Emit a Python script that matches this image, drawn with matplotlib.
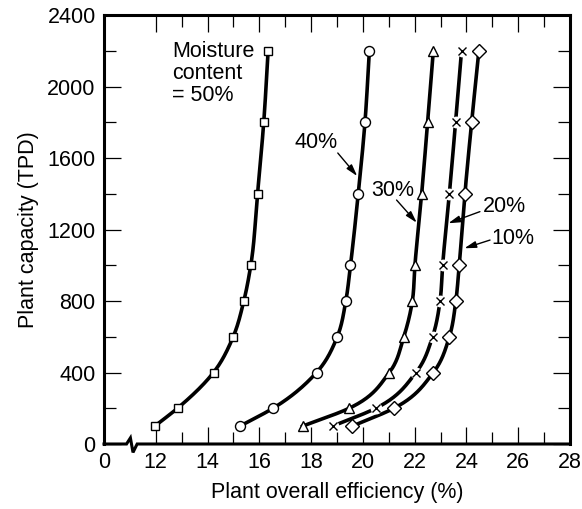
import numpy as np
import matplotlib
matplotlib.use("Agg")
import matplotlib.pyplot as plt
from matplotlib.ticker import MultipleLocator, FixedLocator

plt.rcParams['font.family'] = ['Liberation Sans', 'DejaVu Sans']

# Plant capacity (TPD) at each marker
capacity = [100, 200, 400, 600, 800, 1000, 1400, 1800, 2200]

# Plant overall efficiency (%) per moisture content
eff_50 = [11.96, 12.84, 14.23, 14.99, 15.40, 15.67, 15.93, 16.17, 16.34]
eff_40 = [15.25, 16.53, 18.21, 19.01, 19.34, 19.52, 19.82, 20.08, 20.25]
eff_30 = [17.67, 19.47, 21.02, 21.58, 21.91, 22.01, 22.27, 22.50, 22.72]
eff_20 = [18.83, 20.50, 22.05, 22.69, 22.98, 23.08, 23.34, 23.58, 23.81]
eff_10 = [19.59, 21.20, 22.72, 23.34, 23.59, 23.72, 23.94, 24.20, 24.48]

x_ticks = [10, 12, 14, 16, 18, 20, 22, 24, 26, 28]
x_tick_labels = ['0', '12', '14', '16', '18', '20', '22', '24', '26', '28']
y_ticks = [0, 400, 800, 1200, 1600, 2000, 2400]

FS = 15.5


def smooth_curve(xs, ys, n=40):
    """Cubic Hermite through the points, x as a function of y."""
    xs = np.asarray(xs, float)
    ys = np.asarray(ys, float)
    slopes = np.gradient(xs, ys)
    out_x, out_y = [], []
    for i in range(len(ys) - 1):
        h = ys[i + 1] - ys[i]
        t = np.linspace(0, 1, n)
        h00 = 2 * t**3 - 3 * t**2 + 1
        h10 = t**3 - 2 * t**2 + t
        h01 = -2 * t**3 + 3 * t**2
        h11 = t**3 - t**2
        seg = h00 * xs[i] + h10 * h * slopes[i] + h01 * xs[i + 1] + h11 * h * slopes[i + 1]
        out_x.extend(seg)
        out_y.extend(ys[i] + t * h)
    return np.array(out_x), np.array(out_y)


fig = plt.figure(figsize=(5.82, 5.09), dpi=100)
ax = fig.add_axes([0.1787, 0.1277, 0.8007, 0.8428])

series = [
    (eff_50, 's', 6.3),
    (eff_40, 'o', 7.2),
    (eff_30, '^', 7.0),
    (eff_10, 'D', 6.8),
]
for eff, marker, size in series:
    cx, cy = smooth_curve(eff, capacity)
    ax.plot(cx, cy, color='black', lw=2.6, zorder=2)
    ax.plot(eff, capacity, linestyle='none', marker=marker, markersize=size,
            markerfacecolor='white', markeredgecolor='black', markeredgewidth=1.0, zorder=3)

# 20 % series: crosses with a white halo that breaks the line
cx, cy = smooth_curve(eff_20, capacity)
ax.plot(cx, cy, color='black', lw=2.6, zorder=2)
ax.plot(eff_20, capacity, linestyle='none', marker='o', markersize=8.5,
        markerfacecolor='white', markeredgecolor='none', zorder=3)
ax.plot(eff_20, capacity, linestyle='none', marker='x', markersize=6,
        markeredgecolor='black', markeredgewidth=1.0, zorder=4)

ax.set_xlim(10, 28)
ax.set_ylim(0, 2400)
ax.xaxis.set_major_locator(FixedLocator(x_ticks))
ax.set_xticklabels(x_tick_labels)
ax.xaxis.set_minor_locator(FixedLocator(list(range(13, 28, 2))))
ax.yaxis.set_major_locator(FixedLocator(y_ticks))
ax.yaxis.set_minor_locator(MultipleLocator(200))

ax.tick_params(which='both', direction='in', top=True, right=True, width=0.9, labelsize=FS)
ax.tick_params(which='major', length=12.5)
ax.tick_params(which='minor', length=8.5)
ax.tick_params(axis='x', pad=6)
ax.tick_params(axis='y', pad=6)

for side in ['left', 'right', 'top']:
    ax.spines[side].set_linewidth(2.2)
ax.spines['bottom'].set_visible(False)

# bottom axis line with the break mark
ax.plot([10, 10.87, 11.02, 11.12, 11.28, 28], [0, 0, 34, -47, 0, 0],
        color='black', lw=2.2, clip_on=False, solid_joinstyle='miter', zorder=5)

ax.set_xlabel('Plant overall efficiency (%)', fontsize=FS, labelpad=6)
ax.set_ylabel('Plant capacity (TPD)', fontsize=FS, labelpad=6)

ax.text(12.62, 2255, 'Moisture\ncontent\n= 50%', fontsize=FS, ha='left', va='top', linespacing=1.05)

arrow = dict(arrowstyle='-|>,head_length=0.7,head_width=0.2', color='black', lw=1.0,
             shrinkA=0, shrinkB=0)
ax.text(17.37, 1684, '40%', fontsize=FS, ha='left', va='center')
ax.annotate('', xy=(19.78, 1499), xytext=(19.03, 1628), arrowprops=arrow)
ax.text(20.34, 1421, '30%', fontsize=FS, ha='left', va='center')
ax.annotate('', xy=(22.08, 1238), xytext=(21.30, 1365), arrowprops=arrow)
ax.text(24.64, 1328, '20%', fontsize=FS, ha='left', va='center')
ax.annotate('', xy=(23.30, 1235), xytext=(24.52, 1300), arrowprops=arrow)
ax.text(24.97, 1151, '10%', fontsize=FS, ha='left', va='center')
ax.annotate('', xy=(23.92, 1095), xytext=(24.91, 1141), arrowprops=arrow)

fig.savefig('out.png', dpi=100)
